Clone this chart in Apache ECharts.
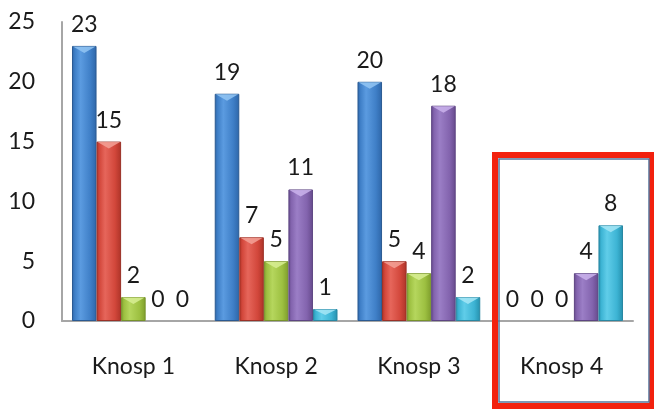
<!DOCTYPE html>
<html>
<head>
<meta charset="utf-8">
<script src="https://cdn.jsdelivr.net/npm/echarts@6/dist/echarts.min.js"></script>
<style>
  html, body { margin: 0; padding: 0; background: #ffffff; }
  #chart { width: 654px; height: 409px; }
</style>
</head>
<body>
<div id="chart"></div>
<script>
// Categories along the x axis
const categories = ['Knosp 1', 'Knosp 2', 'Knosp 3', 'Knosp 4'];

// One array per bar colour, one value per category
const blueValues   = [23, 19, 20, 0];
const redValues    = [15, 7, 5, 0];
const greenValues  = [2, 5, 4, 0];
const purpleValues = [0, 11, 18, 4];
const cyanValues   = [0, 1, 2, 8];

// Value axis ticks
const yTicks = [0, 5, 10, 15, 20, 25];

const seriesValues = [blueValues, redValues, greenValues, purpleValues, cyanValues];

// Shading for each bar colour: edge, highlight, body, bevel, outline
const palettes = [
  { dark: '#2e66a8', light: '#5b9be0', base: '#3f7fc7', bevel: '#93c5f3', border: '#2b5a92' },
  { dark: '#ad3328', light: '#e6665b', base: '#d2473b', bevel: '#f3a197', border: '#9a3026' },
  { dark: '#7e9d2c', light: '#b5d65d', base: '#9dc041', bevel: '#d8ee94', border: '#77922b' },
  { dark: '#664a8c', light: '#9b7ec6', base: '#8364ae', bevel: '#cab3ec', border: '#5d4582' },
  { dark: '#2590ad', light: '#60cde9', base: '#3db4d4', bevel: '#a6e6f6', border: '#2987a2' }
];

const CAT_GAP = 0.14;
const FONT = 'Lato, "Open Sans", sans-serif';

function bodyFill(p) {
  return new echarts.graphic.LinearGradient(0, 0, 1, 0, [
    { offset: 0, color: p.dark },
    { offset: 0.12, color: p.base },
    { offset: 0.35, color: p.light },
    { offset: 0.75, color: p.base },
    { offset: 1, color: p.dark }
  ]);
}

const series = [];

seriesValues.forEach(function (vals, i) {
  const p = palettes[i];
  series.push({
    type: 'bar',
    // empty bars keep their value label but get no outline
    data: vals.map(function (v) {
      return v === 0 ? { value: v, itemStyle: { borderWidth: 0, opacity: 0 } } : v;
    }),
    barGap: '0%',
    barCategoryGap: (CAT_GAP * 100) + '%',
    itemStyle: {
      color: bodyFill(p),
      borderColor: p.border,
      borderWidth: 1
    },
    label: {
      show: true,
      position: 'top',
      distance: 10,
      color: '#1a1a1a',
      fontSize: 23,
      fontFamily: FONT,
      opacity: 1
    },
    z: 2
  });
});

// Bevelled top face drawn over each bar, placed with the same band layout
seriesValues.forEach(function (vals, i) {
  const p = palettes[i];
  series.push({
    type: 'custom',
    z: 3,
    silent: true,
    data: vals.map(function (v, c) { return [c, v]; }),
    encode: { x: 0, y: 1 },
    renderItem: function (params, api) {
      const v = api.value(1);
      if (!v) return null;
      const top = api.coord([api.value(0), v]);
      const base = api.coord([api.value(0), 0]);
      const catW = api.size([1, 0])[0];
      const groupW = catW * (1 - CAT_GAP);
      const barW = groupW / seriesValues.length;
      const x0 = top[0] - groupW / 2 + i * barW;
      const h = Math.min(7, (base[1] - top[1]) / 2);
      return {
        type: 'polygon',
        shape: {
          points: [
            [x0 + 1, top[1] + 0.5],
            [x0 + barW - 1, top[1] + 0.5],
            [x0 + barW / 2, top[1] + h]
          ]
        },
        style: { fill: p.bevel, opacity: 0.85 }
      };
    }
  });
});

const chart = echarts.init(document.getElementById('chart'), null, { renderer: 'canvas' });

chart.setOption({
  animation: false,
  backgroundColor: '#ffffff',
  grid: { left: 62, right: 21, top: 22, bottom: 88, containLabel: false },
  xAxis: {
    type: 'category',
    data: categories,
    axisLine: { show: true, lineStyle: { color: '#a6a6a6', width: 2 } },
    axisTick: { show: false },
    axisLabel: {
      margin: 34,
      color: '#1a1a1a',
      fontSize: 23,
      fontFamily: FONT
    }
  },
  yAxis: {
    type: 'value',
    min: yTicks[0],
    max: yTicks[yTicks.length - 1],
    interval: yTicks[1] - yTicks[0],
    axisLine: { show: true, lineStyle: { color: '#a6a6a6', width: 2 } },
    axisTick: { show: false },
    splitLine: { show: false },
    axisLabel: {
      margin: 27,
      color: '#1a1a1a',
      fontSize: 23,
      fontFamily: FONT,
      padding: [7, 0, 0, 0]
    }
  },
  graphic: [
    {
      type: 'rect',
      silent: true,
      z: 10,
      shape: { x: 495, y: 155, width: 157, height: 251 },
      style: { fill: 'none', stroke: '#f2210e', lineWidth: 6 }
    },
    {
      type: 'rect',
      silent: true,
      z: 10,
      shape: { x: 499, y: 159, width: 150, height: 243 },
      style: { fill: 'none', stroke: '#56769c', lineWidth: 1.5 }
    }
  ],
  series: series
});
</script>
</body>
</html>
